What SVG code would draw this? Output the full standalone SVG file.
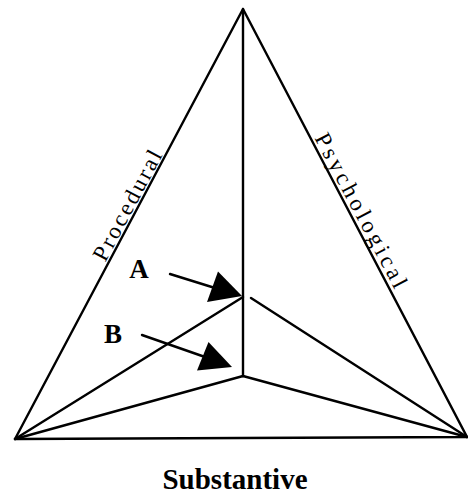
<svg xmlns="http://www.w3.org/2000/svg" width="468" height="498" viewBox="0 0 468 498">
<style>
.ln{stroke:#000;stroke-width:2.4;fill:none;stroke-linecap:round;stroke-linejoin:round}
.lbl{font-family:"Liberation Serif","Times New Roman",serif;font-weight:bold;fill:#000}
.edge{font-family:"Liberation Serif","Times New Roman",serif;fill:#000;font-size:23px}
.head{fill:#000;stroke:none}
</style>
<rect width="468" height="498" fill="#fff"/>
<g id="connectors">
<polyline class="ln" points="15,439 243,9 467,437 15,439"/>
<line class="ln" x1="243" y1="9" x2="243" y2="376"/>
<line class="ln" x1="243" y1="297" x2="15" y2="439"/>
<line class="ln" x1="251" y1="298" x2="467" y2="437"/>
<line class="ln" x1="243" y1="376" x2="15" y2="439"/>
<line class="ln" x1="243" y1="376" x2="467" y2="437"/>
<line class="ln" x1="170" y1="274" x2="215" y2="288"/>
<polygon class="head" points="242,296 218,271.5 207,302"/>
<line class="ln" x1="142" y1="335" x2="205" y2="357"/>
<polygon class="head" points="232,367 208.5,342 197,370.5"/>
</g>
<g id="node-A"><text class="lbl" x="139" y="278" font-size="27" text-anchor="middle">A</text></g>
<g id="node-B"><text class="lbl" x="113" y="343" font-size="27" text-anchor="middle">B</text></g>
<g id="label-procedural"><text class="edge" transform="translate(134,209) rotate(-62)" text-anchor="middle" textLength="122">Procedural</text></g>
<g id="label-psychological"><text class="edge" transform="translate(354.5,214) rotate(62)" text-anchor="middle" textLength="172">Psychological</text></g>
<g id="label-substantive"><text class="lbl" x="235" y="489" font-size="29" text-anchor="middle">Substantive</text></g>
</svg>
